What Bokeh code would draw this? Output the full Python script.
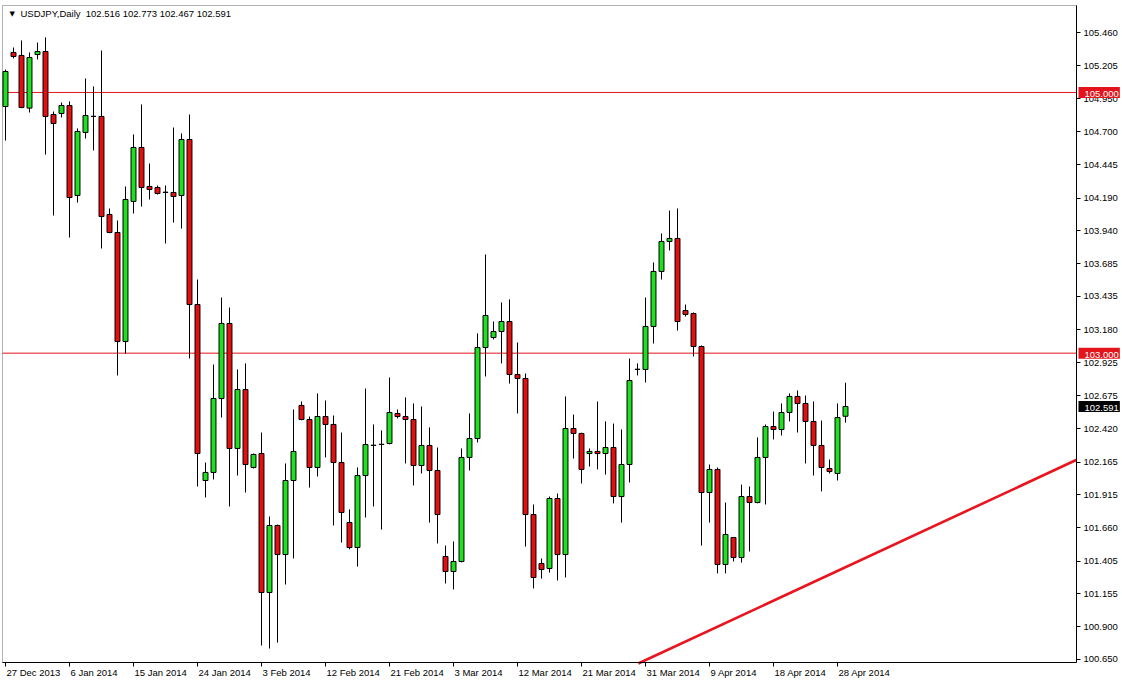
from bokeh.plotting import figure
from bokeh.models import (FixedTicker, PrintfTickFormatter, Label, LinearAxis,
                          ColumnDataSource, Range1d, BoxAnnotation)
from bokeh.embed import file_html
from bokeh.resources import INLINE

# ---------------- data ----------------
symbol = "USDJPY,Daily"

tick_idx = [0, 8, 16, 24, 32, 40, 48, 56, 64, 72, 80, 88, 96, 104]
tick_labels = ["27 Dec 2013", "6 Jan 2014", "15 Jan 2014", "24 Jan 2014", "3 Feb 2014",
               "12 Feb 2014", "21 Feb 2014", "3 Mar 2014", "12 Mar 2014", "21 Mar 2014",
               "31 Mar 2014", "9 Apr 2014", "18 Apr 2014", "28 Apr 2014"]

opens = [
    104.892, 105.307, 105.284, 104.880, 105.291, 105.314, 104.831, 104.839, 104.900, 104.210,
    104.693, 104.816, 104.816, 104.064, 103.926, 103.089, 104.164, 104.578, 104.279, 104.271,
    104.233, 104.233, 104.210, 104.639, 103.373, 102.023, 102.085, 102.652, 103.228, 102.269,
    102.721, 102.123, 102.230, 101.164, 101.678, 101.455, 102.023, 102.599, 102.491, 102.123,
    102.514, 102.453, 102.161, 101.701, 101.509, 102.061, 102.292, 102.299, 102.307, 102.537,
    102.514, 102.491, 102.138, 102.292, 102.100, 101.440, 101.325, 101.402, 102.200, 102.345,
    103.043, 103.120, 103.166, 103.243, 102.836, 102.806, 101.762, 101.386, 101.348, 101.885,
    101.455, 102.422, 102.384, 102.230, 102.246, 102.230, 102.276, 101.900, 102.146, 102.875,
    102.875, 103.205, 103.627, 103.857, 103.880, 103.327, 103.304, 103.051, 101.931, 102.108,
    101.379, 101.586, 101.432, 101.900, 101.854, 102.200, 102.437, 102.414, 102.545, 102.668,
    102.614, 102.476, 102.292, 102.115, 102.077, 102.516]

highs = [
    105.176, 105.345, 105.399, 105.307, 105.383, 105.422, 104.854, 104.923, 104.931, 104.724,
    105.107, 105.046, 105.322, 104.110, 104.018, 104.279, 104.678, 104.908, 104.455, 104.286,
    104.286, 104.731, 104.685, 104.831, 103.565, 102.161, 102.913, 103.427, 103.350, 102.875,
    102.921, 102.230, 102.391, 101.747, 101.685, 102.154, 102.568, 102.629, 102.514, 102.691,
    102.637, 102.522, 102.391, 101.801, 102.123, 102.729, 102.453, 102.407, 102.813, 102.568,
    102.660, 102.614, 102.591, 102.430, 102.276, 101.524, 101.555, 102.269, 102.537, 103.151,
    103.757, 103.243, 103.389, 103.412, 103.082, 102.844, 101.839, 101.425, 101.900, 101.923,
    102.668, 102.529, 102.390, 102.269, 102.629, 102.476, 102.460, 102.414, 102.959, 102.921,
    103.427, 103.696, 103.918, 104.094, 104.110, 103.373, 103.312, 103.059, 102.146, 102.123,
    101.854, 101.590, 101.992, 101.977, 102.353, 102.453, 102.552, 102.614, 102.691, 102.714,
    102.675, 102.629, 102.483, 102.184, 102.614, 102.773]

lows = [
    104.631, 105.261, 104.880, 104.846, 105.253, 104.524, 104.056, 104.808, 103.887, 104.156,
    104.647, 104.555, 103.803, 103.920, 102.829, 102.997, 104.071, 104.125, 104.179, 104.217,
    103.841, 104.002, 103.956, 102.959, 101.977, 101.893, 102.031, 102.506, 101.824, 102.061,
    101.931, 102.115, 100.757, 100.734, 100.780, 101.225, 101.425, 102.485, 101.969, 102.054,
    102.200, 101.678, 101.547, 101.495, 101.363, 101.739, 101.824, 101.647, 102.300, 102.499,
    102.154, 101.985, 102.077, 101.701, 101.540, 101.233, 101.187, 101.395, 102.100, 102.315,
    102.821, 103.105, 102.921, 102.767, 102.537, 101.517, 101.195, 101.271, 101.317, 101.256,
    101.279, 102.192, 102.000, 102.131, 102.108, 102.069, 101.847, 101.701, 102.008, 102.829,
    102.775, 103.074, 103.565, 103.788, 103.174, 103.281, 102.974, 101.524, 101.701, 101.310,
    101.310, 101.402, 101.394, 101.478, 101.848, 101.839, 102.338, 102.368, 102.476, 102.391,
    102.154, 102.061, 101.939, 102.077, 102.023, 102.467]

closes = [
    105.161, 105.276, 104.885, 105.268, 105.314, 104.816, 104.762, 104.900, 104.194, 104.701,
    104.823, 104.817, 104.048, 103.926, 103.089, 104.179, 104.578, 104.271, 104.256, 104.225,
    104.235, 104.202, 104.639, 103.373, 102.230, 102.085, 102.652, 103.228, 102.269, 102.721,
    102.146, 102.223, 101.164, 101.678, 101.455, 102.023, 102.246, 102.491, 102.123, 102.514,
    102.453, 102.161, 101.778, 101.509, 102.061, 102.299, 102.294, 102.301, 102.545, 102.514,
    102.491, 102.138, 102.292, 102.100, 101.762, 101.325, 101.402, 102.200, 102.345, 103.043,
    103.289, 103.166, 103.243, 102.836, 102.806, 101.762, 101.279, 101.340, 101.885, 101.455,
    102.422, 102.384, 102.108, 102.246, 102.230, 102.276, 101.900, 102.146, 102.790, 102.877,
    103.205, 103.627, 103.857, 103.880, 103.243, 103.297, 103.051, 101.931, 102.108, 101.379,
    101.609, 101.432, 101.900, 101.854, 102.200, 102.437, 102.414, 102.545, 102.668, 102.614,
    102.476, 102.292, 102.123, 102.092, 102.506, 102.591]

price_ticks = [105.460, 105.205, 104.950, 104.700, 104.445, 104.190, 103.940, 103.685,
               103.435, 103.180, 102.925, 102.675, 102.420, 102.165, 101.915, 101.660,
               101.405, 101.155, 100.900, 100.650]

levels = [105.000, 103.000]

# trend line anchor points (bar index, price)
trend_idx = [79.1, 133.9]
trend_price = [100.619, 102.182]

# ---------------- geometry / styling ----------------
W, H = 1122, 683
PPX = 8.0          # pixels per bar
PPY = 130.35       # pixels per price unit
X0_PX = 5.0        # pixel of bar 0
REF_PX, REF_PRICE = 32.0, 105.460   # pixel row of a reference price

def bx(px):   # canvas pixel -> bar index
    return (px - X0_PX) / PPX

def py(px):   # canvas pixel row -> price
    return REF_PRICE - (px - REF_PX) / PPY

x_lo, x_hi = bx(2), bx(1076)       # chart box
y_hi, y_lo = py(5), py(662)

BULL = "#1FE01F"
BEAR = "#E41010"
LEVEL_RED = "#E3141C"
TREND_RED = "#E8141E"
FONT = "Liberation Sans"
FSIZE = "9.5px"

p = figure(width=W, height=H,
           x_range=Range1d(bx(0), bx(W)), y_range=Range1d(py(H), py(0)),
           x_axis_location=None, y_axis_location=None,
           output_backend="svg", toolbar_location=None,
           min_border_left=0, min_border_right=0, min_border_top=0, min_border_bottom=0)
p.background_fill_color = "white"
p.border_fill_color = "white"
p.outline_line_color = None
p.grid.visible = False

# chart box
p.add_layout(BoxAnnotation(left=x_lo, right=x_hi, bottom=y_lo, top=y_hi,
                           fill_color=None, line_color="black", line_width=1,
                           level="underlay"))

# price axis (right of chart box)
ya = LinearAxis(fixed_location=x_hi, bounds=(y_lo, y_hi),
                ticker=FixedTicker(ticks=price_ticks),
                formatter=PrintfTickFormatter(format="%.3f"))
ya.major_tick_out = 4
ya.major_tick_in = 0
ya.minor_tick_out = 0
ya.minor_tick_in = 0
ya.major_label_standoff = 3
ya.major_label_text_font = FONT
ya.major_label_text_font_size = FSIZE
ya.major_label_text_color = "black"
ya.axis_line_color = "black"
ya.major_tick_line_color = "black"
p.add_layout(ya, "right")

# time axis (below chart box)
xa = LinearAxis(fixed_location=y_lo, bounds=(x_lo, x_hi), ticker=FixedTicker(ticks=tick_idx))
xa.major_label_overrides = {i: "" for i in tick_idx}
xa.major_tick_out = 4
xa.major_tick_in = 0
xa.minor_tick_out = 0
xa.minor_tick_in = 0
xa.axis_line_color = "black"
xa.major_tick_line_color = "black"
p.add_layout(xa, "below")

for i, lab in zip(tick_idx, tick_labels):
    p.add_layout(Label(x=i, y=y_lo, x_offset=1, y_offset=-4, text=lab,
                       text_align="left", text_baseline="top",
                       text_font=FONT, text_font_size=FSIZE, text_color="black"))

# horizontal levels
p.segment(x0=[x_lo] * len(levels), y0=levels, x1=[x_hi] * len(levels), y1=levels,
          line_color=LEVEL_RED, line_width=1)

# trend line
p.line(x=trend_idx, y=trend_price, line_color=TREND_RED, line_width=2.6)

# candles
xs = list(range(len(opens)))
src = ColumnDataSource(dict(
    x=xs,
    high=highs, low=lows,
    top=[max(o, c) for o, c in zip(opens, closes)],
    bottom=[min(o, c) for o, c in zip(opens, closes)],
    color=[BULL if c >= o else BEAR for o, c in zip(opens, closes)],
))
p.segment(x0="x", y0="low", x1="x", y1="high", source=src, line_color="black", line_width=1)
p.vbar(x="x", width=0.62, top="top", bottom="bottom", fill_color="color",
       line_color="black", line_width=1, source=src)

# price boxes on the axis
for lv in levels:
    p.add_layout(Label(x=x_hi, y=lv, x_offset=2, text=f"{lv:.3f}", text_align="left",
                       text_baseline="middle", text_font=FONT, text_font_size=FSIZE,
                       text_color="white", background_fill_color=LEVEL_RED,
                       padding=(6, 1, 4, 1), level="overlay"))
p.add_layout(Label(x=x_hi, y=closes[-1], x_offset=2, text=f"{closes[-1]:.3f}",
                   text_align="left", text_baseline="middle", text_font=FONT,
                   text_font_size=FSIZE, text_color="white", background_fill_color="black",
                   padding=(6, 1, 4, 1), level="overlay"))

# header
header = (f"{symbol}\u00a0\u00a0{opens[-1]:.3f} {highs[-1]:.3f} "
          f"{lows[-1]:.3f} {closes[-1]:.3f}")
p.add_layout(Label(x=x_lo, y=y_hi, x_offset=7, y_offset=-8, text="\u25BC",
                   text_align="left", text_baseline="middle", text_font="DejaVu Sans",
                   text_font_size="7px", text_color="black"))
p.add_layout(Label(x=x_lo, y=y_hi, x_offset=18, y_offset=-8, text=header,
                   text_align="left", text_baseline="middle", text_font=FONT,
                   text_font_size=FSIZE, text_color="black"))

open("out.html", "w").write(file_html(p, INLINE))
